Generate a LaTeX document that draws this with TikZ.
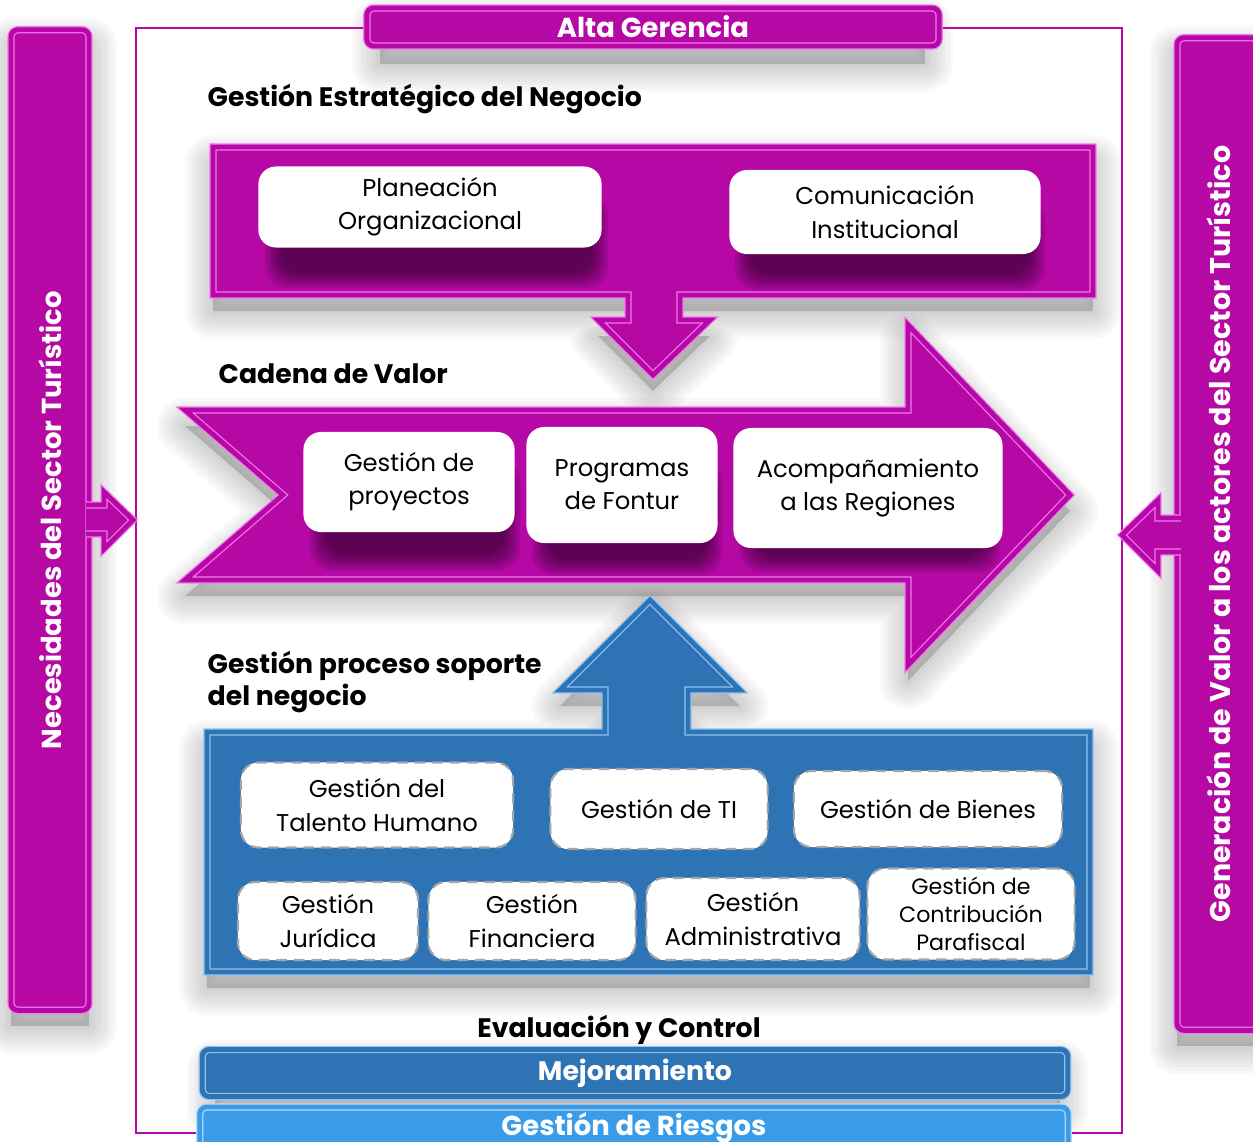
\documentclass[tikz,border=0pt]{standalone}
\usepackage{fontspec}
\setmainfont{Poppins}
\usepackage{tikz}
\usetikzlibrary{positioning}

\definecolor{fmag}{RGB}{181,8,165}
\definecolor{fmagl}{RGB}{242,120,238}
\definecolor{fblue}{RGB}{46,116,181}
\definecolor{fbluel}{RGB}{140,195,240}
\definecolor{fsky}{RGB}{58,156,232}

\tikzset{
  bar/.style={fill=fmag, draw=fmagl, double=fmag, double distance=1.4pt, line width=0.35pt, rounded corners=2pt, text=white, font=\fontsize{7.8}{9}\selectfont\bfseries, inner sep=0pt},
  bluebar/.style={bar, fill=fblue, draw=fbluel, double=fblue, font=\fontsize{7.6}{9}\selectfont\bfseries},
  skybar/.style={bar, fill=fsky, draw=fbluel!60!white, double=fsky, font=\fontsize{7.8}{9}\selectfont\bfseries},
  bevelmag/.style={fill=fmag, draw=fmagl, double=fmag, double distance=1.4pt, line width=0.35pt},
  bevelblue/.style={fill=fblue, draw=fbluel, double=fblue, double distance=1.4pt, line width=0.35pt},
  caja/.style={fill=white, rounded corners=5pt, align=center, inner sep=0pt, font=\fontsize{6.9}{9.4}\selectfont},
  cajapunt/.style={caja, draw=gray!70, densely dashed, line width=0.6pt},
  titulo/.style={font=\fontsize{7.6}{9}\selectfont\bfseries, align=left, inner sep=0pt},
}

% sombra bajo las cajas blancas: capas que se encogen
\newcommand{\sombra}[5][0.1]{%
  \foreach \k in {0,3,...,15}{\fill[black, opacity=#1, rounded corners=6pt] (#2+\k,#3+\k) rectangle (#4-\k,#5-\k);}}
% sombra difusa de una forma
\newcommand{\sombraforma}[1]{%
  \foreach \w in {16,14,...,2}{\filldraw[black, opacity=0.025, line width=\w pt, line join=round, shift={(0,16)}] #1;}}

\begin{document}
\begin{tikzpicture}[x=0.01cm, y=-0.01cm]
\useasboundingbox (0,0) rectangle (1253,1141);

% sombras grises
\sombraforma{(380,10) rectangle (925,48)}
\sombraforma{(11,30) rectangle (89,1010)}
\sombraforma{(1177,38) rectangle (1260,1030)}
\sombraforma{(213,147) -- (1093,147) -- (1093,295) -- (680,295) -- (680,320) -- (710,320) -- (653,375) -- (598,320) -- (628,320) -- (628,295) -- (213,295) -- cycle}
\sombraforma{(185,410) -- (908,410) -- (908,325) -- (1070,495) -- (908,665) -- (908,580) -- (185,580) -- (283,495) -- cycle}
\sombraforma{(207,732) -- (605,732) -- (605,690) -- (560,690) -- (650,600) -- (740,690) -- (688,690) -- (688,732) -- (1090,732) -- (1090,972) -- (207,972) -- cycle}
\sombraforma{(215,1052) rectangle (1060,1095)}

% marco
\draw[fmag, line width=0.45pt] (136,28) rectangle (1122,1133);

% barras
\node[bar, minimum width=5.72cm, minimum height=0.38cm] (alta) at (653,27) {Alta Gerencia};
\node[bar, rotate=90, minimum width=9.8cm, minimum height=0.78cm] (nec) at (50,520) {Necesidades del Sector Turístico};
\node[bar, rotate=90, minimum width=9.92cm, minimum height=0.84cm, font=\fontsize{8.1}{9}\selectfont\bfseries] (gen) at (1219,534) {Generación de Valor a los actores del Sector Turístico};
\draw[bevelmag] (86,505) -- (104,505) -- (104,492) -- (133,520) -- (104,549) -- (104,534) -- (86,534);
\draw[bevelmag] (1181,518) -- (1158,518) -- (1158,500) -- (1122,535) -- (1158,571) -- (1158,552) -- (1181,552);

% estrategico
\node[titulo, anchor=west] (hest) at (207,99) {Gestión Estratégico del Negocio};
\draw[bevelmag] (213,147) -- (1093,147) -- (1093,295) -- (680,295) -- (680,320) -- (710,320) -- (653,375) -- (598,320) -- (628,320) -- (628,295) -- (213,295) -- cycle;
\sombra{265}{195}{608}{288}
\sombra{735}{200}{1045}{290}
\node[caja, minimum width=3.43cm, minimum height=0.81cm] (plan) at (430,207) {Planeación\\Organizacional};
\node[caja, minimum width=3.11cm, minimum height=0.84cm] (com) at (885,212) {Comunicación\\Institucional};

% cadena de valor
\node[titulo, anchor=west] (hcad) at (218,374) {Cadena de Valor};
\draw[bevelmag] (185,410) -- (908,410) -- (908,325) -- (1070,495) -- (908,665) -- (908,580) -- (185,580) -- (283,495) -- cycle;
\sombra{310}{460}{520}{570}
\sombra{532}{460}{722}{575}
\sombra{740}{460}{1000}{572}
\node[caja, minimum width=2.11cm, minimum height=1cm] (proy) at (409,482) {Gestión de\\proyectos};
\node[caja, minimum width=1.91cm, minimum height=1.16cm] (prog) at (622,485) {Programas\\de Fontur};
\node[caja, minimum width=2.69cm, minimum height=1.2cm] (acom) at (868,488) {Acompañamiento\\a las Regiones};

% soporte
\node[titulo, anchor=west] (hsop) at (207,682) {Gestión proceso soporte\\del negocio};
\draw[bevelblue] (207,732) -- (605,732) -- (605,690) -- (560,690) -- (650,600) -- (740,690) -- (688,690) -- (688,732) -- (1090,732) -- (1090,972) -- (207,972) -- cycle;
\node[cajapunt, minimum width=2.72cm, minimum height=0.85cm] (tal) at (377,805) {Gestión del\\Talento Humano};
\node[cajapunt, minimum width=2.17cm, minimum height=0.8cm] (ti) at (659,809) {Gestión de TI};
\node[cajapunt, minimum width=2.68cm, minimum height=0.76cm] (bien) at (928,809) {Gestión de Bienes};
\node[cajapunt, minimum width=1.8cm, minimum height=0.78cm] (jur) at (328,921) {Gestión\\Jurídica};
\node[cajapunt, minimum width=2.07cm, minimum height=0.78cm] (fin) at (532,921) {Gestión\\Financiera};
\node[cajapunt, minimum width=2.13cm, minimum height=0.82cm] (adm) at (753,919) {Gestión\\Administrativa};
\node[cajapunt, minimum width=2.07cm, minimum height=0.91cm, font=\fontsize{6.3}{8}\selectfont] (contr) at (971,914) {Gestión de\\Contribución\\Parafiscal};

% evaluacion
\node[titulo] (heval) at (619,1030) {Evaluación y Control};
\node[bluebar, minimum width=8.65cm, minimum height=0.47cm] (mej) at (635,1073) {Mejoramiento};
\node[skybar, minimum width=8.68cm, minimum height=0.42cm] (ries) at (634,1128) {Gestión de Riesgos};
\end{tikzpicture}
\end{document}
